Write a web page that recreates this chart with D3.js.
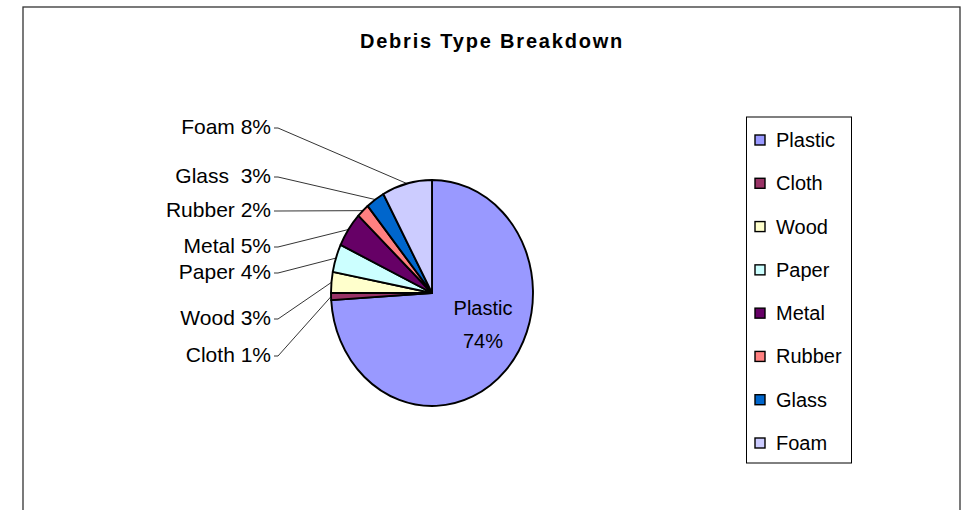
<!DOCTYPE html>
<html>
<head>
<meta charset="utf-8">
<script src="https://cdn.jsdelivr.net/npm/d3@7"></script>
<style>
  body { margin: 0; background: #fff; }
  text { font-family: "Liberation Sans", Arial, sans-serif; }
</style>
</head>
<body>
<div id="chart"></div>
<script>
// data
var categories = ["Plastic", "Cloth", "Wood", "Paper", "Metal", "Rubber", "Glass", "Foam"];
var percents = [74, 1, 3, 4, 5, 2, 3, 8];
var colors = ["#9999FF", "#993366", "#FFFFCC", "#CCFFFF", "#660066", "#FF8080", "#0066CC", "#CCCCFF"];
var labelSep = [" ", " ", " ", " ", " ", " ", "  ", " "];

// layout for the outside labels (baseline y), Plastic sits inside
var labelBaseline = [null, 362, 325, 279, 253, 217, 183, 134];

var width = 973, height = 510;
var cx = 432, cy = 293, rx = 101, ry = 113;

var svg = d3.select("#chart")
    .append("svg")
    .attr("width", width)
    .attr("height", height);

// chart frame
svg.append("rect")
    .attr("x", 23)
    .attr("y", 7)
    .attr("width", 937)
    .attr("height", 520)
    .attr("fill", "white")
    .attr("stroke", "#333")
    .attr("stroke-width", 1.3);

svg.append("text")
    .attr("x", 492)
    .attr("y", 48)
    .attr("text-anchor", "middle")
    .attr("font-size", 20)
    .attr("font-weight", "bold")
    .attr("letter-spacing", 1.8)
    .text("Debris Type Breakdown");

var rows = categories.map(function(c, i) {
    return {name: c, value: percents[i], color: colors[i], i: i};
});

var pie = d3.pie()
    .sort(null)
    .value(function(d) { return d.value; });

var arcs = pie(rows);

var arc = d3.arc()
    .innerRadius(0)
    .outerRadius(rx);

// pie is drawn a bit taller than wide, like the original
var g = svg.append("g")
    .attr("transform", "translate(" + cx + "," + cy + ") scale(1," + (ry / rx) + ")");

g.selectAll("path")
    .data(arcs)
    .enter()
    .append("path")
    .attr("d", arc)
    .attr("fill", function(d) { return d.data.color; })
    .attr("stroke", "black")
    .attr("stroke-width", 1.9)
    .attr("vector-effect", "non-scaling-stroke")
    .attr("stroke-linejoin", "round");

function edgePoint(d) {
    var a = (d.startAngle + d.endAngle) / 2;
    return [cx + rx * Math.sin(a), cy - ry * Math.cos(a)];
}

var outside = arcs.filter(function(d) { return d.data.i > 0; });
var labelX = 271;

svg.selectAll(".leader")
    .data(outside)
    .enter()
    .append("polyline")
    .attr("class", "leader")
    .attr("fill", "none")
    .attr("stroke", "black")
    .attr("stroke-width", 0.8)
    .attr("points", function(d) {
        var p = edgePoint(d);
        var y0 = labelBaseline[d.data.i] - 6;
        return [[labelX + 3, y0], [labelX + 7, y0], p].map(function(q) { return q.join(","); }).join(" ");
    });

svg.selectAll(".plabel")
    .data(outside)
    .enter()
    .append("text")
    .attr("class", "plabel")
    .attr("x", labelX)
    .attr("y", function(d) { return labelBaseline[d.data.i]; })
    .attr("text-anchor", "end")
    .attr("font-size", 21)
    .style("white-space", "pre")
    .text(function(d) { return d.data.name + labelSep[d.data.i] + d.data.value + "%"; });

// big slice label inside
var inside = svg.append("text")
    .attr("text-anchor", "middle")
    .attr("font-size", 20);
inside.append("tspan")
    .attr("x", 483)
    .attr("y", 315)
    .text(rows[0].name);
inside.append("tspan")
    .attr("x", 483)
    .attr("y", 348)
    .text(rows[0].value + "%");

// legend
var legend = svg.append("g");
legend.append("rect")
    .attr("x", 746.5)
    .attr("y", 117)
    .attr("width", 105)
    .attr("height", 346)
    .attr("fill", "white")
    .attr("stroke", "black")
    .attr("stroke-width", 1);

var ly = d3.scalePoint()
    .domain(categories)
    .range([140, 443]);

var item = legend.selectAll(".item")
    .data(rows)
    .enter()
    .append("g")
    .attr("class", "item")
    .attr("transform", function(d) { return "translate(755," + ly(d.name) + ")"; });

item.append("rect")
    .attr("x", 0)
    .attr("y", -5)
    .attr("width", 10)
    .attr("height", 10)
    .attr("fill", function(d) { return d.color; })
    .attr("stroke", "black")
    .attr("stroke-width", 1.4);

item.append("text")
    .attr("x", 21)
    .attr("y", 7)
    .attr("font-size", 20)
    .text(function(d) { return d.name; });
</script>
</body>
</html>
